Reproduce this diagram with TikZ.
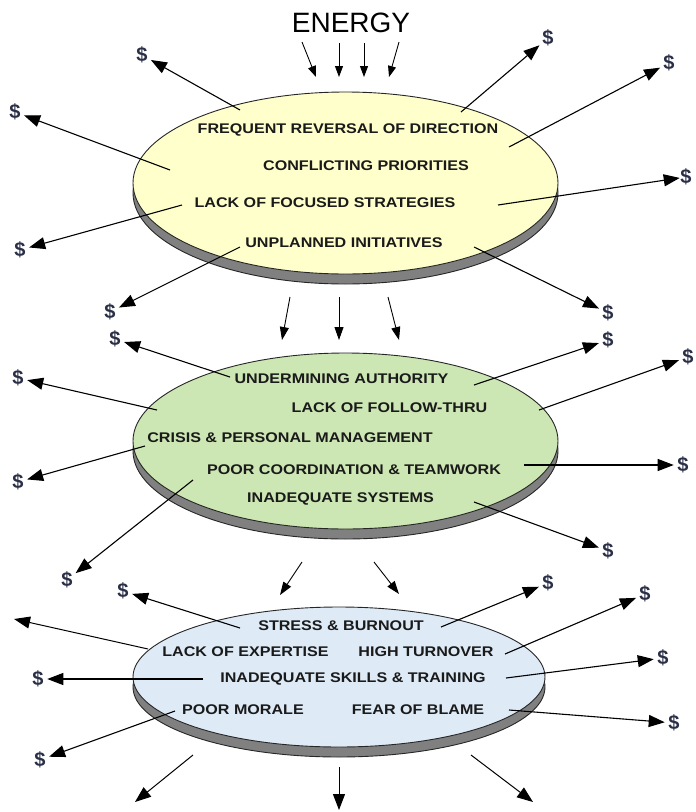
\documentclass[tikz,border=0pt]{standalone}
\usepackage{fontspec}
\setmainfont{Liberation Sans}
\newfontfamily\lblfont[FakeStretch=1.15]{Liberation Sans}
\usetikzlibrary{arrows.meta,shapes.geometric}
\definecolor{yl}{HTML}{FFFFCC}
\definecolor{gr}{HTML}{CCE6B4}
\definecolor{bl}{HTML}{DEEBF7}
\definecolor{rimc}{HTML}{808080}
\definecolor{dolc}{HTML}{2B3048}
\definecolor{txtc}{HTML}{1A1A1A}
\begin{document}
\begin{tikzpicture}[x=1pt,y=-1pt,
  disc/.style={ellipse, draw=black!85, line width=0.9pt, inner sep=0pt},
  lbl/.style={font=\lblfont\bfseries\fontsize{14}{16}\selectfont, text=txtc, inner sep=0pt},
  dollar/.style={font=\bfseries\fontsize{20}{22}\selectfont, text=dolc, inner sep=0.5pt},
  leak/.style={line width=1.1pt, -{Triangle[length=16pt,width=12pt]}, shorten >=3pt},
  feed/.style={line width=0.9pt, -{Triangle[length=11pt,width=8pt]}},
  drop/.style={line width=1pt, -{Triangle[length=16pt,width=12pt]}}]
\useasboundingbox (0,0) rectangle (696,812);
\fill[white] (0,0) rectangle (696,812);

% discs
\node[disc, fill=rimc, minimum width=425pt, minimum height=182pt] (L1r) at (345.5,193) {};
\node[disc, fill=yl,   minimum width=425pt, minimum height=182pt] (L1) at (345.5,183) {};
\node[disc, fill=rimc, minimum width=425pt, minimum height=176pt] (L2r) at (345.5,451) {};
\node[disc, fill=gr,   minimum width=425pt, minimum height=176pt] (L2) at (345.5,441) {};
\node[disc, fill=rimc, minimum width=412pt, minimum height=140pt] (L3r) at (339,687) {};
\node[disc, fill=bl,   minimum width=412pt, minimum height=140pt] (L3) at (339,677) {};

% title
\node[font=\fontsize{28}{30}\selectfont, inner sep=0pt] (energy) at (351,23) {ENERGY};

% dollar signs
\foreach \n/\x/\y in {a1/142/55, a2/15/112, a3/20/250, a4/110/312,
                      b1/548/38, b2/669/63, b3/686/177, b4/608/313,
                      c1/115/339, c2/18/378, c3/18/482, c4/67/580,
                      c5/608/340, c6/688/357, c7/683/465, c8/608/551,
                      d1/123/591, d3/38/679, d4/40/760,
                      e1/548/583, e2/645/594, e3/663/658, e4/674/723}
  \node[dollar] (\n d) at (\x,\y) {\$};

% start points of leaks
\foreach \n/\x/\y in {a1/240/110, a2/170/170, a3/182/205, a4/240/247,
                      b1/461/112, b2/509/147, b3/498/205, b4/474/247,
                      c1/230/377, c2/157/410, c3/145/446, c4/193/480,
                      c5/474/385, c6/539/410, c7/524/465, c8/474/502,
                      d1/240/628, d2/148/649, d3/203/679, d4/175/711,
                      e1/441/627, e2/505/654, e3/506/678, e4/509/710,
                      f1/193/755, f2/339/767, f3/471/755}
  \coordinate (\n s) at (\x,\y);
\coordinate (d2e) at (14,619);
\coordinate (f1e) at (135,802);
\coordinate (f2e) at (339,810);
\coordinate (f3e) at (533,802);

% feed arrows
\foreach \n/\x/\y/\u/\v in {g1/302/42/316/77, g2/339/43/339/77, g3/364/43/364/77, g4/399/42/389/77,
                            h1/290/297/282/340, h2/339/297/339/340, h3/388/297/399/340,
                            i1/302/562/280/595, i2/374/562/399/594}
  {\coordinate (\n s) at (\x,\y); \coordinate (\n e) at (\u,\v);}
\foreach \n in {g1,g2,g3,g4}
  \draw[feed] (\n s) -- (\n e);
\foreach \n in {h1,h2,h3,i1,i2}
  \draw[feed, -{Triangle[length=13pt,width=9pt]}] (\n s) -- (\n e);

% leak arrows
\foreach \n in {a1,a2,a3,a4,b1,b2,b4,c1,c2,c3,c4,c5,c6,c7,c8,d1,d3,d4,e1,e2,e3,e4}
  \draw[leak] (\n s) -- (\n d);
\draw[leak, shorten >=0pt] (b3s) -- (b3d);
\draw[drop] (d2s) -- (d2e);
\draw[drop] (f1s) -- (f1e);
\draw[drop] (f2s) -- (f2e);
\draw[drop] (f3s) -- (f3e);

% labels
\node[lbl] (t11) at (348,130) {FREQUENT REVERSAL OF DIRECTION};
\node[lbl] (t12) at (366,166) {CONFLICTING PRIORITIES};
\node[lbl] (t13) at (325,203) {LACK OF FOCUSED STRATEGIES};
\node[lbl] (t14) at (344,243) {UNPLANNED INITIATIVES};

\node[lbl] (t21) at (341.5,379) {UNDERMINING AUTHORITY};
\node[lbl] (t22) at (389.5,408) {LACK OF FOLLOW-THRU};
\node[lbl] (t23) at (290,438) {CRISIS \& PERSONAL MANAGEMENT};
\node[lbl] (t24) at (354,470) {POOR COORDINATION \& TEAMWORK};
\node[lbl] (t25) at (340.5,499) {INADEQUATE SYSTEMS};

\node[lbl] (t31) at (341,626) {STRESS \& BURNOUT};
\node[lbl] (t32) at (245.5,652) {LACK OF EXPERTISE};
\node[lbl] (t33) at (426,652) {HIGH TURNOVER};
\node[lbl] (t34) at (353,679) {INADEQUATE SKILLS \& TRAINING};
\node[lbl] (t35) at (243,710) {POOR MORALE};
\node[lbl] (t36) at (418,710) {FEAR OF BLAME};
\end{tikzpicture}
\end{document}
